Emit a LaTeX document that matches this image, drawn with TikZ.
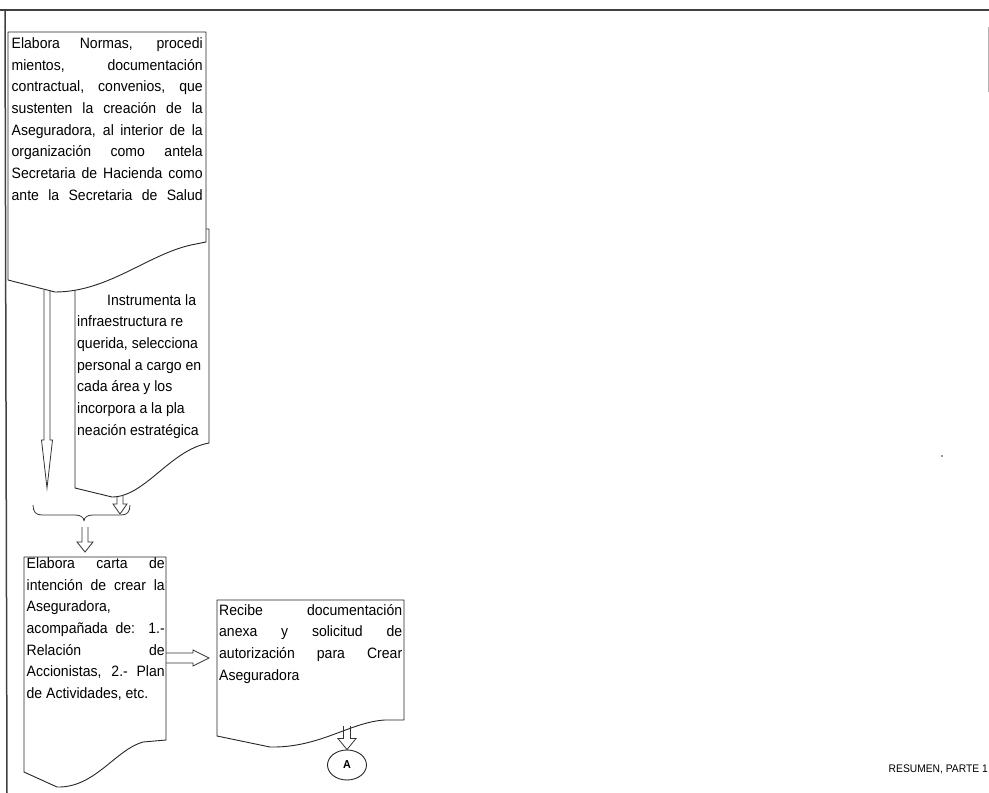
\documentclass[tikz,border=0pt]{standalone}
\usepackage{fontspec}
\setmainfont[FakeStretch=0.935]{Liberation Sans}
\usetikzlibrary{calc,shapes.geometric}

% one justified line of a given width
\newcommand\jline[2]{\makebox[#1][s]{#2}}
% hollow block arrow pointing down: start, tip, shaft half width, head half width, head length
\newcommand\vblock[5]{%
  \draw[blk] ($(#1)+(-#3,0)$) -- ($(#2)+(-#3,-#5)$) -- ($(#2)+(-#4,-#5)$) -- (#2)
    -- ($(#2)+(#4,-#5)$) -- ($(#2)+(#3,-#5)$) -- ($(#1)+(#3,0)$);}
% hollow block arrow pointing right
\newcommand\hblock[5]{%
  \draw[blk] ($(#1)+(0,-#3)$) -- ($(#2)+(-#5,-#3)$) -- ($(#2)+(-#5,-#4)$) -- (#2)
    -- ($(#2)+(-#5,#4)$) -- ($(#2)+(-#5,#3)$) -- ($(#1)+(0,#3)$);}

\tikzset{
  frame/.style={draw=black!75, line width=1.5pt},
  docbox/.style={draw=black!85, line width=0.9pt, fill=white, line join=round},
  blk/.style={draw=black!80, line width=0.8pt, line join=miter},
  % anchored at the baseline of the last line
  txt/.style={inner sep=0pt, anchor=base west, align=left,
    font=\fontsize{15}{21.7}\selectfont},
}

\begin{document}
\begin{tikzpicture}[x=1pt,y=-1pt]
\useasboundingbox (0,0) rectangle (989,793);

% page frame
\draw[frame] (0,10) -- (989,10);
\draw[frame] (5,10) -- (7,793);
\draw[black!30, line width=0.8pt] (988,27) -- (988,92);

% second document (behind the first)
\draw[docbox] (75,229) -- (209,229) -- (209,443)
  .. controls (170,450) and (145,497) .. (112,497) -- (75,488) -- cycle;
\node[txt] (t2) at (77,435.2) {\hspace*{30pt}Instrumenta la\\
  infraestructura re\\
  querida, selecciona\\
  personal a cargo en\\
  cada área y los\\
  incorpora a la pla\\
  neación estratégica};

% first document
\draw[docbox] (8,32) -- (206,32) -- (206,242) -- (196,244)
  .. controls (150,252) and (110,292) .. (55,292) -- (8,280) -- cycle;
\node[txt] (t1) at (11.5,200.2) {\jline{191pt}{Elabora Normas, procedi}\\
  \jline{191pt}{mientos, documentación}\\
  \jline{191pt}{contractual, convenios, que}\\
  \jline{191pt}{sustenten la creación de la}\\
  \jline{191pt}{Aseguradora, al interior de la}\\
  \jline{191pt}{organización como antela}\\
  \jline{191pt}{Secretaria de Hacienda como}\\
  \jline{191pt}{ante la Secretaria de Salud}};

% connectors of the first stage
\coordinate (d1out) at (47,290);
\coordinate (d1tip) at (47,488);
\vblock{d1out}{d1tip}{3}{5.5}{48}
\coordinate (d2out) at (120,496);
\coordinate (d2tip) at (120,514);
\vblock{d2out}{d2tip}{3}{7}{10}

% joining brace
\coordinate (brL) at (33,505);
\coordinate (brR) at (130,505);
\coordinate (brM) at (84,521);
\draw[blk, line join=round] (brL) .. controls (33,512) and (36,515) .. (42,515) -- (75,515)
  .. controls (80,515) and (84,517) .. (brM)
  .. controls (84,517) and (88,515) .. (93,515) -- (121,515)
  .. controls (127,515) and (130,512) .. (brR);
\coordinate (jout) at (85,527);
\coordinate (jtip) at (85,552);
\vblock{jout}{jtip}{3}{8}{10}

% third document
\draw[docbox] (24,557) -- (166,557) -- (166,740) -- (143,742)
  .. controls (115,750) and (95,788) .. (57,787) -- (24,772) -- cycle;
\node[txt] (t3) at (26.5,698.5) {\jline{138pt}{Elabora carta de}\\
  \jline{138pt}{intención de crear la}\\
  Aseguradora,\\
  \jline{138pt}{acompañada de: 1.-}\\
  \jline{138pt}{Relación de}\\
  \jline{138pt}{Accionistas, 2.- Plan}\\
  de Actividades, etc.};

% fourth document
\draw[docbox] (217,600) -- (404,600) -- (404,720) -- (385,720)
  .. controls (350,722) and (320,748) .. (270,747) -- (217,736) -- cycle;
\node[txt] (t4) at (219,680.1) {\jline{183pt}{Recibe documentación}\\
  \jline{183pt}{anexa y solicitud de}\\
  \jline{183pt}{autorización para Crear}\\
  Aseguradora};

% third to fourth
\coordinate (d3out) at (166,658);
\coordinate (d4in) at (209,658);
\hblock{d3out}{d4in}{5}{8}{16}

% off-page connector
\node[ellipse, draw=black!85, line width=0.9pt, minimum width=39pt, minimum height=30pt,
  inner sep=0pt, font=\bfseries\fontsize{11.5}{13}\selectfont] (A) at (347,765) {A};
\coordinate (d4out) at (347,726);
\vblock{d4out}{A.north}{3.5}{9}{11}

\node[inner sep=0pt, anchor=base east, font=\fontsize{11}{13}\selectfont] (res) at (988,772) {RESUMEN, PARTE 1};
\fill[black!80] (942,456) circle (0.9);
\end{tikzpicture}
\end{document}
